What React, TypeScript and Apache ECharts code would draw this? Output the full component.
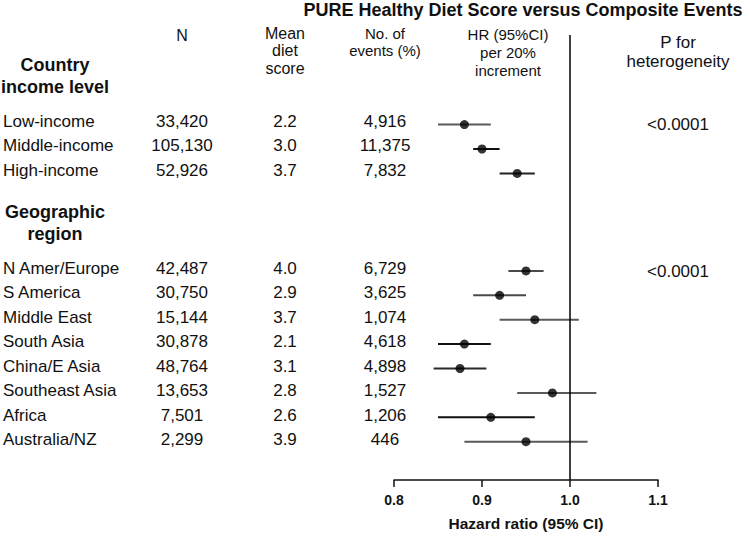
import React, { useEffect, useRef } from "react";
import * as echarts from "echarts";

// ---------- data ----------
const title = "PURE Healthy Diet Score versus Composite Events";
const groupLabels = ["Country\nincome level", "Geographic\nregion"];
const groupSlots = [-2, 4];
const rowLabels = [
  "Low-income",
  "Middle-income",
  "High-income",
  "N Amer/Europe",
  "S America",
  "Middle East",
  "South Asia",
  "China/E Asia",
  "Southeast Asia",
  "Africa",
  "Australia/NZ",
];
const rowSlots = [0, 1, 2, 6, 7, 8, 9, 10, 11, 12, 13];
const nValues = ["33,420", "105,130", "52,926", "42,487", "30,750", "15,144", "30,878", "48,764", "13,653", "7,501", "2,299"];
const meanScores = ["2.2", "3.0", "3.7", "4.0", "2.9", "3.7", "2.1", "3.1", "2.8", "2.6", "3.9"];
const events = ["4,916", "11,375", "7,832", "6,729", "3,625", "1,074", "4,618", "4,898", "1,527", "1,206", "446"];
const hr = [0.88, 0.9, 0.94, 0.95, 0.92, 0.96, 0.88, 0.875, 0.98, 0.91, 0.95];
const ciLow = [0.85, 0.89, 0.92, 0.93, 0.89, 0.92, 0.85, 0.845, 0.94, 0.85, 0.88];
const ciHigh = [0.91, 0.92, 0.96, 0.97, 0.95, 1.01, 0.91, 0.905, 1.03, 0.96, 1.02];
const pLabels = ["<0.0001", "<0.0001"];
const pSlots = [0, 6];
const xTicks = [0.8, 0.9, 1.0, 1.1];
const refValue = 1.0;
const headerN = "N";
const headerMean = "Mean\ndiet\nscore";
const headerEvents = "No. of\nevents (%)";
const headerHR = "HR (95%CI)\nper 20%\nincrement";
const headerP = "P for\nheterogeneity";
const xAxisTitle = "Hazard ratio (95% CI)";

// ---------- styles / layout ----------
const FONT = "'Liberation Sans', Arial, Helvetica, sans-serif";
const TXT = "#111";
const whiskerColors = ["#5a5a5a", "#111", "#222", "#4a4a4a", "#4a4a4a", "#5a5a5a", "#111", "#2a2a2a", "#5a5a5a", "#111", "#5a5a5a"];
const ROW0_Y = 125;
const ROW_H = 24.5;
const GRID_TOP = 35;
const GRID_BOTTOM_Y = 482;
const PLOT_LEFT = 394;
const PLOT_RIGHT = 658;
const yMin = (GRID_TOP - ROW0_Y) / ROW_H;
const yMax = (GRID_BOTTOM_Y - ROW0_Y) / ROW_H;

const COL_LABEL_X = 3;
const COL_GROUP_X = 55;
const COL_N_X = 182;
const COL_MEAN_X = 285;
const COL_EVENTS_X = 385;
const COL_P_X = 678;

function textColumn(texts: string[], slots: number[], x: number, align: string, opts: any = {}) {
  return {
    type: "custom",
    xAxisIndex: 1,
    yAxisIndex: 1,
    silent: true,
    clip: false,
    data: slots.map((s) => [x, s]),
    renderItem: (params: any, api: any) => {
      const p = api.coord([api.value(0), api.value(1)]);
      return {
        type: "text",
        x: p[0],
        y: p[1] + (opts.dy ?? -4),
        style: {
          text: texts[params.dataIndex],
          align,
          textAlign: align,
          verticalAlign: "middle",
          textVerticalAlign: "middle",
          fontSize: opts.fontSize ?? 17,
          fontWeight: opts.fontWeight ?? "normal",
          fontFamily: FONT,
          lineHeight: opts.lineHeight ?? 20,
          fill: TXT,
        },
      };
    },
  };
}

function headerText(text: string, x: number, y: number, size: number, lineHeight: number, weight = "normal") {
  return {
    type: "text",
    x,
    y,
    silent: true,
    style: {
      text,
      align: "center",
      textAlign: "center",
      verticalAlign: "middle",
      textVerticalAlign: "middle",
      fontSize: size,
      fontWeight: weight,
      fontFamily: FONT,
      lineHeight,
      fill: TXT,
    },
  };
}

export default function App() {
  const ref = useRef<HTMLDivElement>(null);
  useEffect(() => {
    document.body.style.margin = "0";
    if (!ref.current) return;
    const chart = echarts.init(ref.current, undefined, { renderer: "svg" });
    const option: any = {
      animation: false,
      textStyle: { fontFamily: FONT },
      grid: [
        { left: PLOT_LEFT, top: GRID_TOP, width: PLOT_RIGHT - PLOT_LEFT, height: GRID_BOTTOM_Y - GRID_TOP },
        { left: 0, top: GRID_TOP, width: 750, height: GRID_BOTTOM_Y - GRID_TOP },
      ],
      xAxis: [
        {
          gridIndex: 0,
          type: "value",
          min: xTicks[0],
          max: xTicks[xTicks.length - 1],
          interval: 0.1,
          axisLine: { show: true, onZero: false, lineStyle: { color: TXT, width: 1.5 } },
          axisTick: { show: true, length: 7, lineStyle: { color: TXT, width: 1.5 } },
          axisLabel: {
            fontWeight: "bold",
            fontSize: 14,
            color: TXT,
            margin: 13,
            fontFamily: FONT,
            formatter: (v: number) => v.toFixed(1),
          },
          splitLine: { show: false },
          name: xAxisTitle,
          nameLocation: "middle",
          nameGap: 35,
          nameTextStyle: { fontWeight: "bold", fontSize: 15.5, color: TXT, fontFamily: FONT },
        },
        { gridIndex: 1, type: "value", min: 0, max: 750, show: false },
      ],
      yAxis: [
        { gridIndex: 0, type: "value", inverse: true, min: yMin, max: yMax, show: false },
        { gridIndex: 1, type: "value", inverse: true, min: yMin, max: yMax, show: false },
      ],
      graphic: [
        headerText(title, 523, 10, 18, 20, "bold"),
        headerText(headerN, COL_N_X, 35, 16, 18),
        headerText(headerMean, COL_MEAN_X, 50.5, 16, 17.5),
        headerText(headerEvents, COL_EVENTS_X, 41.5, 15, 17),
        headerText(headerHR, 508, 52, 15, 18),
        headerText(headerP, COL_P_X, 51.5, 17, 19),
      ],
      series: [
        {
          type: "custom",
          xAxisIndex: 0,
          yAxisIndex: 0,
          silent: true,
          z: 2,
          data: rowSlots.map((s, i) => [ciLow[i], ciHigh[i], s]),
          renderItem: (params: any, api: any) => {
            const a = api.coord([api.value(0), api.value(2)]);
            const b = api.coord([api.value(1), api.value(2)]);
            return {
              type: "line",
              shape: { x1: a[0], y1: a[1], x2: b[0], y2: b[1] },
              style: { stroke: whiskerColors[params.dataIndex], lineWidth: 2 },
            };
          },
        },
        {
          type: "scatter",
          xAxisIndex: 0,
          yAxisIndex: 0,
          silent: true,
          z: 3,
          symbol: "circle",
          symbolSize: 9,
          itemStyle: { color: "#000" },
          data: rowSlots.map((s, i) => [hr[i], s]),
          markLine: {
            silent: true,
            symbol: "none",
            label: { show: false },
            lineStyle: { color: "#000", width: 1.5, type: "solid" },
            data: [{ xAxis: refValue }],
          },
        },
        textColumn(rowLabels, rowSlots, COL_LABEL_X, "left"),
        textColumn(nValues, rowSlots, COL_N_X, "center"),
        textColumn(meanScores, rowSlots, COL_MEAN_X, "center"),
        textColumn(events, rowSlots, COL_EVENTS_X, "center"),
        textColumn(pLabels, pSlots, COL_P_X, "center", { dy: -1 }),
        textColumn(groupLabels, groupSlots, COL_GROUP_X, "center", {
          dy: 0,
          fontSize: 18,
          fontWeight: "bold",
          lineHeight: 22,
        }),
      ],
    };
    chart.setOption(option);
    return () => chart.dispose();
  }, []);
  return <div ref={ref} style={{ width: 750, height: 536 }} />;
}
